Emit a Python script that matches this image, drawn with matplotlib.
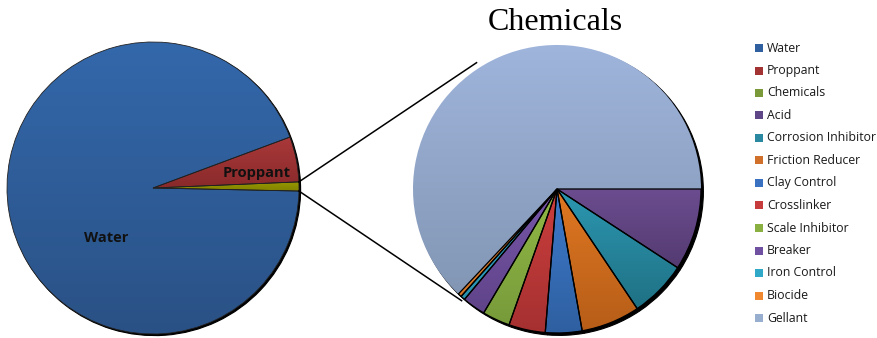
import numpy as np
import matplotlib
matplotlib.use("Agg")
import matplotlib.pyplot as plt
from matplotlib.colors import LinearSegmentedColormap
from matplotlib.patches import PathPatch, Rectangle
from matplotlib.transforms import ScaledTranslation

# ---- data -------------------------------------------------------------
main_labels = ["Water", "Proppant", "Chemicals"]
main_values = [94.0, 5.0, 1.0]

chem_labels = ["Acid", "Corrosion Inhibitor", "Friction Reducer", "Clay Control",
               "Crosslinker", "Scale Inhibitor", "Breaker", "Iron Control",
               "Biocide", "Gellant"]
chem_values = [9.2, 6.4, 6.6, 4.1, 4.1, 3.1, 2.6, 0.5, 0.4, 63.0]

legend_labels = main_labels + chem_labels

# ---- colours: (top of gradient, bottom of gradient) ---------------------
shade = {
    "Water": ("#3368ab", "#2a5185"),
    "Proppant": ("#ab393a", "#88292a"),
    "Chemicals": ("#9c9c00", "#7e7e00"),
    "Acid": ("#6c4d90", "#533a70"),
    "Corrosion Inhibitor": ("#2c98b2", "#1f7083"),
    "Friction Reducer": ("#e07822", "#b65d18"),
    "Clay Control": ("#3e7bcc", "#2e5fa0"),
    "Crosslinker": ("#cc3f3e", "#a53030"),
    "Scale Inhibitor": ("#92b946", "#779a3a"),
    "Breaker": ("#7857aa", "#5f4388"),
    "Iron Control": ("#35adcf", "#2890ad"),
    "Biocide": ("#f58e34", "#d27428"),
    "Gellant": ("#a0b5dc", "#8296b4"),
}
legend_color = {
    "Water": "#2f5f9f", "Proppant": "#a33333", "Chemicals": "#7a9a3a",
    "Acid": "#5f4687", "Corrosion Inhibitor": "#2a89a1", "Friction Reducer": "#d0702a",
    "Clay Control": "#3a71c0", "Crosslinker": "#c63c3c", "Scale Inhibitor": "#8ab042",
    "Breaker": "#7050a0", "Iron Control": "#30a8c8", "Biocide": "#f08830",
    "Gellant": "#98aece",
}

W, H = 878, 338
fig = plt.figure(figsize=(W / 100, H / 100), dpi=100)
ax = fig.add_axes([0, 0, 1, 1])

grad = np.linspace(0, 1, 256).reshape(-1, 1)


def shaded_pie(values, labels, center, radius, startangle, counterclock,
               explode, edge, lw, shadow_off, plain_edge=()):
    wedges, _ = ax.pie(values, center=center, radius=radius, startangle=startangle,
                       counterclock=counterclock, explode=explode,
                       wedgeprops=dict(edgecolor=edge, linewidth=lw))
    for w, lab in zip(wedges, labels):
        # drop shadow behind the slice
        off = ScaledTranslation(shadow_off / 100, -shadow_off / 100, fig.dpi_scale_trans)
        sh = PathPatch(w.get_path(), transform=w.get_transform() + off,
                       facecolor="black", edgecolor="black", lw=0.8, zorder=1)
        ax.add_patch(sh)
        # vertical gradient fill over the slice's own extent
        bb = w.get_path().get_extents()
        cmap = LinearSegmentedColormap.from_list(lab, list(shade[lab]))
        im = ax.imshow(grad, extent=(bb.x0 - 2, bb.x1 + 2, bb.y0 - 2, bb.y1 + 2),
                       origin="upper", aspect="auto", cmap=cmap, zorder=2,
                       interpolation="bilinear")
        im.set_clip_path(w)
        w.set_facecolor("none")
        w.set_zorder(3)
        if lab in plain_edge:
            w.set_edgecolor("none")
    return wedges


# left pie: chemicals, proppant, water counter-clockwise from just below 3 o'clock
order = [2, 1, 0]
left_c, left_r = (153, H - 188), 146
left_w = shaded_pie([main_values[i] for i in order], [main_labels[i] for i in order],
                    left_c, left_r, -1.2, True, None, "#222222", 0.6, 1.6)

# right pie: chemical breakdown, clockwise from 3 o'clock
right_c, right_r = (557, H - 189), 144
explode = [0.03 if lab == "Gellant" else 0 for lab in chem_labels]
right_w = shaded_pie(chem_values, chem_labels, right_c, right_r, 0, False,
                     explode, "black", 0.9, 2.4, plain_edge=("Gellant",))

# connector lines from the chemicals slice to the secondary pie
chem_w = left_w[0]
a_top, a_bot = np.radians(chem_w.theta2), np.radians(chem_w.theta1)
p_top = (left_c[0] + left_r * np.cos(a_top), left_c[1] + left_r * np.sin(a_top))
p_bot = (left_c[0] + left_r * np.cos(a_bot), left_c[1] + left_r * np.sin(a_bot))
t_top, t_bot = np.radians(122.5), np.radians(-130.5)
q_top = (right_c[0] + 1.04 * right_r * np.cos(t_top), right_c[1] + 1.04 * right_r * np.sin(t_top))
q_bot = (right_c[0] + 1.02 * right_r * np.cos(t_bot), right_c[1] + 1.02 * right_r * np.sin(t_bot))
ax.plot([p_top[0], q_top[0]], [p_top[1], q_top[1]], color="black", lw=1.1, zorder=4)
ax.plot([p_bot[0], q_bot[0]], [p_bot[1], q_bot[1]], color="black", lw=1.1, zorder=4)

# slice labels
lab_font = dict(family=["Open Sans", "DejaVu Sans"], fontweight="bold", fontsize=10.5,
                color="#111111", ha="center", va="center", zorder=5)
ax.text(106, H - 238, "Water", **lab_font)
ax.text(257, H - 173, "Proppant", **lab_font)

# title of the secondary pie
ax.text(555, H - 22, "Chemicals", family=["Liberation Serif"], fontsize=23,
        ha="center", va="center", color="black")

# legend
for i, lab in enumerate(legend_labels):
    y = H - (48 + 22.5 * i)
    ax.add_patch(Rectangle((755, y - 4), 8, 8, facecolor=legend_color[lab],
                           edgecolor="none", zorder=5))
    ax.text(767, y, lab, family=["Open Sans", "DejaVu Sans"], fontsize=8.8,
            ha="left", va="center", color="#1a1a1a", zorder=5)

ax.set_xlim(0, W)
ax.set_ylim(0, H)
ax.set_aspect("equal")
ax.set_axis_off()
fig.savefig("out.png", dpi=100, facecolor="white")
